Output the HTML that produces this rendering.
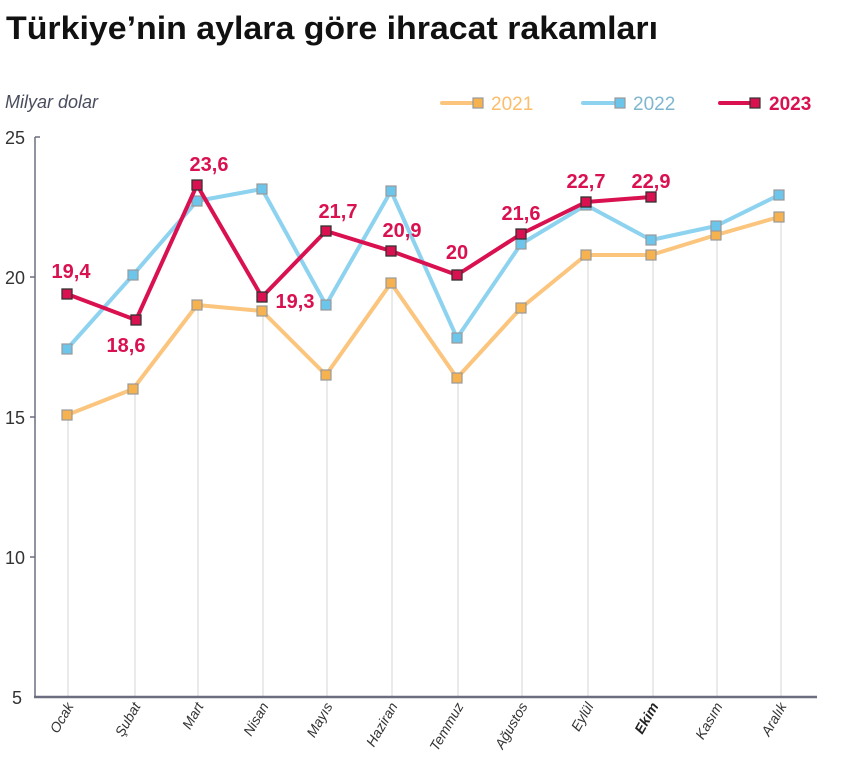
<!DOCTYPE html>
<html><head><meta charset="utf-8"><style>
body{margin:0;background:#fff;width:867px;height:762px;overflow:hidden;font-family:"Liberation Sans",sans-serif}
</style></head><body>
<svg width="867" height="762" xmlns="http://www.w3.org/2000/svg" font-family="Liberation Sans, sans-serif">
<text x="6" y="39" font-size="32" font-weight="bold" fill="#111" textLength="652" lengthAdjust="spacingAndGlyphs">Türkiye’nin aylara göre ihracat rakamları</text>
<text x="5" y="108" font-size="18" font-style="italic" fill="#4a4d5e">Milyar dolar</text>
<!-- legend -->
<g stroke-width="4" stroke-linecap="round">
<line x1="442" y1="103" x2="476" y2="103" stroke="#fbc57e"/><rect x="473" y="98" width="10" height="10" fill="#f6b24f" stroke="#999" stroke-width="1.2"/>
<text x="491" y="110" font-size="19" fill="#fbbd6a" stroke="none">2021</text>
<line x1="583" y1="103" x2="617" y2="103" stroke="#8dd3f0"/><rect x="615" y="98" width="10" height="10" fill="#6cc6ec" stroke="#999" stroke-width="1.2"/>
<text x="633" y="110" font-size="19" fill="#7fb6cf" stroke="none">2022</text>
<line x1="720" y1="103" x2="752" y2="103" stroke="#d91150"/><rect x="750" y="98" width="10" height="10" fill="#d91150" stroke="#333" stroke-width="1.2"/>
<text x="769" y="110" font-size="19" font-weight="bold" fill="#d91150" stroke="none">2023</text>
</g>
<!-- grid -->
<g stroke="#e3e3e3" stroke-width="1.5">
<line x1="68" y1="415" x2="68" y2="697"/><line x1="135" y1="389" x2="135" y2="697"/><line x1="198" y1="305" x2="198" y2="697"/><line x1="263" y1="311" x2="263" y2="697"/><line x1="327" y1="375" x2="327" y2="697"/><line x1="392" y1="283" x2="392" y2="697"/><line x1="458" y1="378" x2="458" y2="697"/><line x1="522" y1="308" x2="522" y2="697"/><line x1="588" y1="255" x2="588" y2="697"/><line x1="653" y1="255" x2="653" y2="697"/><line x1="717" y1="235" x2="717" y2="697"/><line x1="781" y1="217" x2="781" y2="697"/>
</g>
<!-- axes -->
<g stroke="#6b6e80" stroke-width="1.5" fill="none">
<line x1="35" y1="137" x2="35" y2="697"/>
<line x1="34" y1="697" x2="817" y2="697" stroke-width="2.5"/>
<line x1="35" y1="137" x2="40" y2="137"/><line x1="30" y1="277" x2="35" y2="277"/><line x1="30" y1="417" x2="35" y2="417"/><line x1="30" y1="557" x2="35" y2="557"/>
</g>
<g font-size="18" fill="#333" text-anchor="end">
<text x="25" y="144">25</text><text x="25" y="284">20</text><text x="25" y="424">15</text><text x="25" y="564">10</text><text x="22" y="704">5</text>
</g>
<!-- x labels -->
<g font-size="14" font-style="italic" fill="#333" text-anchor="end">
<text transform="translate(74,706) rotate(-60)">Ocak</text>
<text transform="translate(141,706) rotate(-60)">Şubat</text>
<text transform="translate(204,706) rotate(-60)">Mart</text>
<text transform="translate(269,706) rotate(-60)">Nisan</text>
<text transform="translate(333,706) rotate(-60)">Mayıs</text>
<text transform="translate(398,706) rotate(-60)">Haziran</text>
<text transform="translate(464,706) rotate(-60)">Temmuz</text>
<text transform="translate(528,706) rotate(-60)">Ağustos</text>
<text transform="translate(594,706) rotate(-60)">Eylül</text>
<text transform="translate(659,706) rotate(-60)" font-weight="bold" fill="#222">Ekim</text>
<text transform="translate(723,706) rotate(-60)">Kasım</text>
<text transform="translate(787,706) rotate(-60)">Aralık</text>
</g>
<!-- 2021 -->
<polyline fill="none" stroke="#fbc57e" stroke-width="4" stroke-linejoin="round" points="67,415 133,389 197,305 262,311 326,375 391,283 457,378 521,308 586,255 651,255 716,235 779,217"/>
<g fill="#f6b24f" stroke="#999" stroke-width="1.2">
<rect x="62" y="410" width="10" height="10"/><rect x="128" y="384" width="10" height="10"/><rect x="192" y="300" width="10" height="10"/><rect x="257" y="306" width="10" height="10"/><rect x="321" y="370" width="10" height="10"/><rect x="386" y="278" width="10" height="10"/><rect x="452" y="373" width="10" height="10"/><rect x="516" y="303" width="10" height="10"/><rect x="581" y="250" width="10" height="10"/><rect x="646" y="250" width="10" height="10"/><rect x="711" y="230" width="10" height="10"/><rect x="774" y="212" width="10" height="10"/>
</g>
<!-- 2022 -->
<polyline fill="none" stroke="#8dd3f0" stroke-width="4" stroke-linejoin="round" points="67,349 133,275 197,201 262,189 326,305 391,191 457,338 521,244 586,205 651,240 716,226 779,195"/>
<g fill="#6cc6ec" stroke="#999" stroke-width="1.2">
<rect x="62" y="344" width="10" height="10"/><rect x="128" y="270" width="10" height="10"/><rect x="192" y="196" width="10" height="10"/><rect x="257" y="184" width="10" height="10"/><rect x="321" y="300" width="10" height="10"/><rect x="386" y="186" width="10" height="10"/><rect x="452" y="333" width="10" height="10"/><rect x="516" y="239" width="10" height="10"/><rect x="581" y="200" width="10" height="10"/><rect x="646" y="235" width="10" height="10"/><rect x="711" y="221" width="10" height="10"/><rect x="774" y="190" width="10" height="10"/>
</g>
<!-- 2023 -->
<polyline fill="none" stroke="#d91150" stroke-width="4" stroke-linejoin="round" points="67,294 136,320 197,185 262,297 326,231 391,251 457,275 521,234 586,202 651,197"/>
<g fill="#d91150" stroke="#333" stroke-width="1.3">
<rect x="62" y="289" width="10" height="10"/><rect x="131" y="315" width="10" height="10"/><rect x="192" y="180" width="10" height="10"/><rect x="257" y="292" width="10" height="10"/><rect x="321" y="226" width="10" height="10"/><rect x="386" y="246" width="10" height="10"/><rect x="452" y="270" width="10" height="10"/><rect x="516" y="229" width="10" height="10"/><rect x="581" y="197" width="10" height="10"/><rect x="646" y="192" width="10" height="10"/>
</g>
<g font-size="20" font-weight="bold" fill="#d91150" text-anchor="middle">
<text x="71" y="278">19,4</text><text x="126" y="352">18,6</text><text x="209" y="171">23,6</text><text x="295" y="308">19,3</text><text x="338" y="218">21,7</text><text x="402" y="237">20,9</text><text x="457" y="259">20</text><text x="521" y="220">21,6</text><text x="586" y="188">22,7</text><text x="651" y="188">22,9</text>
</g>
</svg>
</body></html>
